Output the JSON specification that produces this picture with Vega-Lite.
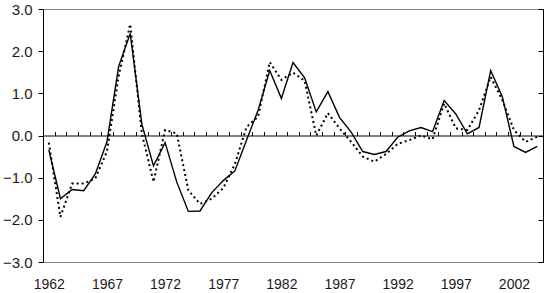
{
  "$schema": "https://vega.github.io/schema/vega-lite/v6.json",
  "width": 500,
  "height": 253,
  "autosize": {"type": "none"},
  "padding": {"left": 43, "top": 9, "right": 7, "bottom": 31},
  "background": "white",
  "config": {"view": {"stroke": null}, "font": "Liberation Sans"},
  "data": {"values": [
    {"year": 1962, "a": -0.34, "b": -0.17},
    {"year": 1963, "a": -1.5, "b": -1.93},
    {"year": 1964, "a": -1.28, "b": -1.14},
    {"year": 1965, "a": -1.31, "b": -1.14},
    {"year": 1966, "a": -0.91, "b": -1.02},
    {"year": 1967, "a": -0.15, "b": -0.38},
    {"year": 1968, "a": 1.63, "b": 1.4},
    {"year": 1969, "a": 2.42, "b": 2.64},
    {"year": 1970, "a": 0.27, "b": 0.05},
    {"year": 1971, "a": -0.72, "b": -1.1},
    {"year": 1972, "a": -0.17, "b": 0.13},
    {"year": 1973, "a": -1.1, "b": 0.05},
    {"year": 1974, "a": -1.8, "b": -1.3},
    {"year": 1975, "a": -1.79, "b": -1.62},
    {"year": 1976, "a": -1.36, "b": -1.5},
    {"year": 1977, "a": -1.07, "b": -1.25},
    {"year": 1978, "a": -0.84, "b": -0.68},
    {"year": 1979, "a": -0.11, "b": 0.2},
    {"year": 1980, "a": 0.6, "b": 0.45},
    {"year": 1981, "a": 1.54, "b": 1.74},
    {"year": 1982, "a": 0.88, "b": 1.32},
    {"year": 1983, "a": 1.73, "b": 1.49},
    {"year": 1984, "a": 1.37, "b": 1.3},
    {"year": 1985, "a": 0.56, "b": 0.0},
    {"year": 1986, "a": 1.04, "b": 0.53},
    {"year": 1987, "a": 0.43, "b": 0.17},
    {"year": 1988, "a": 0.08, "b": -0.15},
    {"year": 1989, "a": -0.38, "b": -0.5},
    {"year": 1990, "a": -0.45, "b": -0.62},
    {"year": 1991, "a": -0.38, "b": -0.44},
    {"year": 1992, "a": -0.04, "b": -0.2},
    {"year": 1993, "a": 0.11, "b": -0.11},
    {"year": 1994, "a": 0.19, "b": 0.0},
    {"year": 1995, "a": 0.09, "b": -0.09},
    {"year": 1996, "a": 0.83, "b": 0.76},
    {"year": 1997, "a": 0.51, "b": 0.17},
    {"year": 1998, "a": 0.04, "b": 0.13},
    {"year": 1999, "a": 0.19, "b": 0.6},
    {"year": 2000, "a": 1.54, "b": 1.39},
    {"year": 2001, "a": 0.92, "b": 0.84},
    {"year": 2002, "a": -0.26, "b": 0.13},
    {"year": 2003, "a": -0.4, "b": -0.15},
    {"year": 2004, "a": -0.26, "b": -0.03}
  ]},
  "layer": [
    {
      "mark": {"type": "line", "color": "black", "strokeWidth": 1.4},
      "encoding": {
        "x": {
          "field": "year", "type": "quantitative",
          "scale": {"domain": [1961.5, 2004.5], "nice": false, "zero": false},
          "axis": {
            "orient": "bottom", "title": null,
            "values": [1962, 1967, 1972, 1977, 1982, 1987, 1992, 1997, 2002],
            "format": "d", "domain": false, "ticks": false, "grid": false,
            "labelPadding": 15, "labelFontSize": 14, "labelColor": "#1a1a1a"
          }
        },
        "y": {
          "field": "a", "type": "quantitative",
          "scale": {"domain": [-3, 3], "nice": false},
          "axis": {
            "orient": "left", "title": null,
            "values": [-3, -2, -1, 0, 1, 2, 3],
            "format": ".1f",
            "domainColor": "black", "tickColor": "black", "tickSize": 5,
            "labelPadding": 6, "labelFontSize": 15, "labelColor": "#1a1a1a",
            "grid": true, "gridColor": "#888",
            "gridOpacity": {"condition": {"test": "datum.value === 3 || datum.value === -3", "value": 1}, "value": 0}
          }
        }
      }
    },
    {
      "mark": {"type": "line", "color": "black", "strokeWidth": 2, "strokeDash": [2, 3]},
      "encoding": {
        "x": {
          "field": "year", "type": "quantitative",
          "axis": {
            "orient": "top", "title": null, "offset": -126.5,
            "values": [1962.5, 1963.5, 1964.5, 1965.5, 1966.5, 1967.5, 1968.5, 1969.5, 1970.5, 1971.5, 1972.5, 1973.5, 1974.5, 1975.5, 1976.5, 1977.5, 1978.5, 1979.5, 1980.5, 1981.5, 1982.5, 1983.5, 1984.5, 1985.5, 1986.5, 1987.5, 1988.5, 1989.5, 1990.5, 1991.5, 1992.5, 1993.5, 1994.5, 1995.5, 1996.5, 1997.5, 1998.5, 1999.5, 2000.5, 2001.5, 2002.5, 2003.5],
            "labels": false, "grid": false,
            "domainColor": "black", "tickColor": "black", "tickSize": 4
          }
        },
        "y": {
          "field": "b", "type": "quantitative",
          "axis": {
            "orient": "right", "title": null,
            "values": [-3, -2, -1, 0, 1, 2, 3],
            "labels": false, "grid": false,
            "domainColor": "black", "tickColor": "black", "tickSize": -5
          }
        }
      }
    }
  ],
  "resolve": {"axis": {"x": "independent", "y": "independent"}}
}
